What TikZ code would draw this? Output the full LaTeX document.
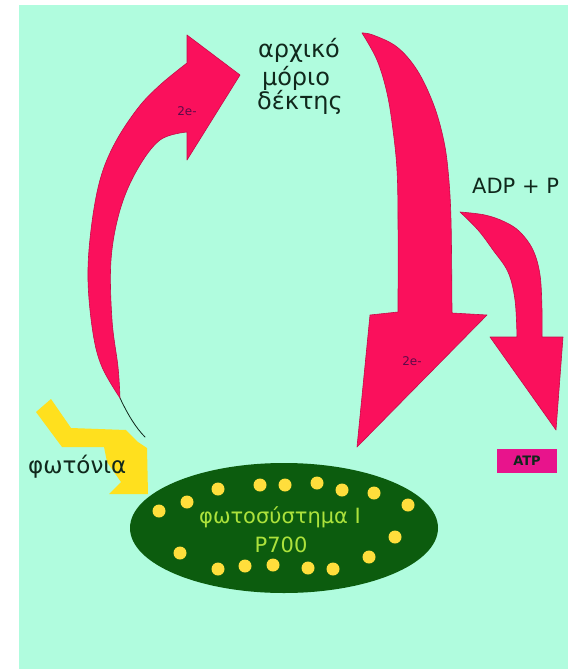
\documentclass[tikz,border=0pt]{standalone}
\usepackage{fontspec}
\setmainfont{DejaVu Sans}
\definecolor{bgcyan}{RGB}{176,252,222}
\definecolor{arrowred}{RGB}{250,16,92}
\definecolor{arrowedge}{RGB}{200,10,72}
\definecolor{photonyellow}{RGB}{255,224,30}
\definecolor{psgreen}{RGB}{12,92,14}
\definecolor{dotyellow}{RGB}{255,222,60}
\definecolor{pstext}{RGB}{172,226,60}
\definecolor{atpbox}{RGB}{232,20,140}
\definecolor{labeldark}{RGB}{16,40,28}
\definecolor{eviolet}{RGB}{92,10,72}
\begin{document}
\begin{tikzpicture}[x=1pt, y=-1pt, line join=round, line cap=round,
  arrowbody/.style={fill=arrowred, draw=arrowedge, line width=0.6pt},
  psdot/.style={fill=dotyellow},
  lbl/.style={text=labeldark, inner sep=0pt, font=\fontsize{24}{28}\selectfont},
  elabel/.style={text=eviolet, inner sep=0pt, font=\fontsize{12}{14}\selectfont},
  pslabel/.style={text=pstext, inner sep=0pt, font=\fontsize{21}{24}\selectfont}]
				\useasboundingbox (0,0) rectangle (568,669);
				\fill[white] (0,0) rectangle (568,669);
				\fill[bgcyan] (19,5) rectangle (568,669);
				% photons
				\fill[photonyellow] (36,412) -- (51,399) -- (71,428) -- (126,430) -- (138,442) -- (147,448)
					-- (148,494) -- (109,494) -- (121,482) -- (107,462) -- (104,447) -- (62,447) -- cycle;
				% left arrow
				\coordinate (L0) at (120,398);
				\coordinate (L1) at (187,63);
				\coordinate (L2) at (187,35);
				\coordinate (L3) at (240,75);
				\coordinate (L4) at (187,160);
				\coordinate (L5) at (187,132);
				\coordinate (Lt) at (145,437);
				\draw[labeldark, line width=0.8pt] (L0) .. controls (128,415) and (136,428) .. (Lt);
				\draw[arrowbody] plot[smooth, tension=0.6] coordinates {(L0) (102,367) (93,333) (88,280) (91,230) (100,180) (115,143) (138,108) (160,85) (L1)}
					-- (L2) -- (L3) -- (L4) -- (L5)
					-- plot[smooth, tension=0.6] coordinates {(L5) (160,140) (137,170) (120,210) (111,260) (112,320) (118,367) (L0)} -- cycle;
				% big arrow
				\coordinate (R0) at (362,33);
				\coordinate (R1) at (452,313);
				\coordinate (R2) at (487,315);
				\coordinate (R3) at (357,447);
				\coordinate (R4) at (370,315);
				\coordinate (R5) at (398,312);
				\draw[arrowbody] plot[smooth, tension=0.6] coordinates {(R0) (373,35) (397,47) (417,70) (433,103) (443,137) (448,170) (451,220) (R1)}
					-- (R2) -- (R3) -- (R4) -- (R5)
					-- plot[smooth, tension=0.6] coordinates {(R5) (398,220) (397,170) (393,130) (387,93) (377,60) (R0)} -- cycle;
				% ADP arrow
				\coordinate (D0) at (460,212);
				\coordinate (D1) at (542,337);
				\coordinate (D2) at (563,337);
				\coordinate (D3) at (556,430);
				\coordinate (D4) at (490,337);
				\coordinate (D5) at (517,337);
				\draw[arrowbody] plot[smooth, tension=0.6] coordinates {(D0) (485,215) (505,222) (520,232) (533,250) (540,275) (542,310) (D1)}
					-- (D2) -- (D3) -- (D4) -- (D5)
					-- plot[smooth, tension=0.6] coordinates {(D5) (515,300) (508,272) (493,250) (478,230) (D0)} -- cycle;
				% photosystem
				\fill[psgreen] (284,528) ellipse [x radius=154, y radius=65];
				\foreach \x/\y in {218/489, 260/485, 285/485, 317/483, 342/490, 374/493, 408/505, 187/502, 159/511,
					395/537, 180/553, 369/557, 218/569, 245/566, 273/565, 308/568, 333/569}
					\fill[psdot] (\x,\y) circle (6.5);
				\node[pslabel, anchor=base] (ps) at (280,523) {φωτοσύστημα Ι};
				\node[pslabel, anchor=base] (p700) at (281,552) {P700};
				% labels
				\node[lbl, anchor=base] (arx) at (299,57) {αρχικό};
				\node[lbl, anchor=base] (mor) at (296,85) {μόριο};
				\node[lbl, anchor=base] (dek) at (300,109) {δέκτης};
				\node[lbl, anchor=base west, font=\fontsize{21}{24}\selectfont] (adp) at (472,193) {ADP + P};
				\node[lbl, anchor=base west, font=\fontsize{23}{26}\selectfont] (fot) at (28,473) {φωτόνια};
				\node[elabel, anchor=base] (el) at (187,115) {2e-};
				\node[elabel, anchor=base] (er) at (412,365) {2e-};
				\fill[atpbox] (497,449) rectangle (557,473);
				\node[text=labeldark, inner sep=0pt, font=\bfseries\fontsize{13}{15}\selectfont] (atp) at (527,461) {ATP};
			\end{tikzpicture}
\end{document}
